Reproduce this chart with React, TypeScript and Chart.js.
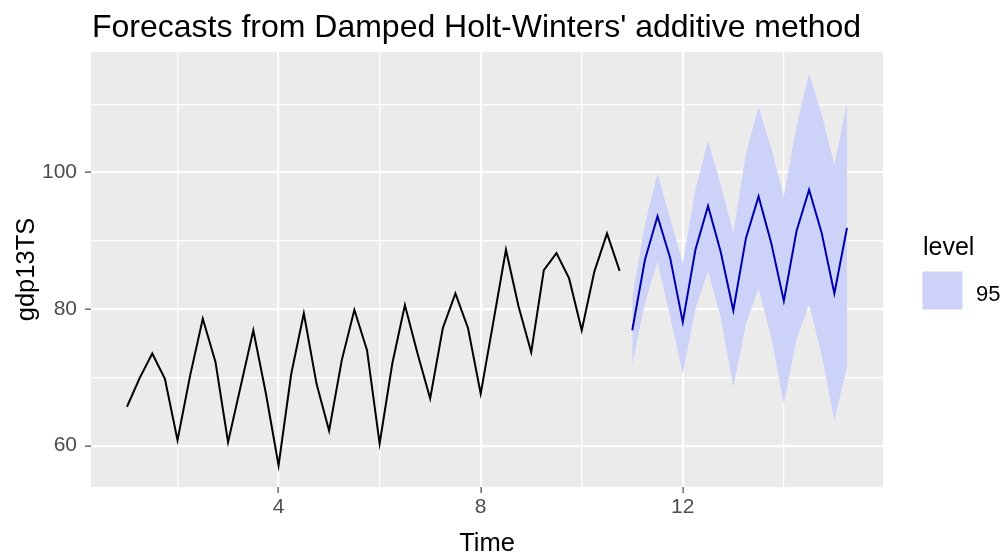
import React, { useEffect, useRef } from "react";
import { Chart, registerables } from "chart.js";

Chart.register(...registerables);

// ---- data ----
const historyStart = 1;
const quarterStep = 0.25;
const historyValues = [
  65.7, 69.9, 73.5, 69.8,
  60.8, 70.3, 78.6, 72.3,
  60.5, 68.7, 76.9, 67.6,
  57.1, 70.5, 79.4, 69.1,
  62.2, 72.5, 79.9, 74.0,
  60.3, 72.0, 80.6, 73.5,
  66.9, 77.2, 82.3, 77.2,
  67.6, 78.1, 88.7, 80.4,
  73.7, 85.7, 88.2, 84.5,
  76.9, 85.5, 91.1, 85.6,
];
const forecastStart = 11;
const forecastMean = [
  76.9, 87.2, 93.6, 87.5,
  78.1, 88.7, 95.1, 88.4,
  79.8, 90.4, 96.5, 89.7,
  81.2, 91.4, 97.5, 91.1,
  82.3, 91.9,
];
const forecastUpper95 = [
  81.8, 92.4, 99.9, 93.3,
  86.7, 97.5, 104.7, 98.2,
  91.2, 102.8, 109.6, 103.6,
  96.5, 106.8, 114.5, 108.5,
  101.1, 110.2,
];
const forecastLower95 = [
  71.8, 80.9, 87.0, 78.9,
  70.5, 80.0, 85.6, 78.8,
  68.6, 77.8, 83.1, 75.8,
  66.1, 75.5, 80.7, 73.2,
  63.7, 71.6,
];
const xMajorTicks = [4, 8, 12];
const xMinorTicks = [2, 6, 10, 14];
const yMajorTicks = [60, 80, 100];
const yMinorTicks = [70, 90, 110];
const xRange = [0.2875, 15.9625];
const yRange = [53.95, 117.66];
const titleText = "Forecasts from Damped Holt-Winters' additive method";
const xAxisTitle = "Time";
const yAxisTitle = "gdp13TS";
const legendTitle = "level";
const legendLabel = "95";

// ---- styles ----
const FONT = '"Liberation Sans", Arial, sans-serif';
const BAND = "#CDD2F9";
const MEAN = "#0000AA";
const PANEL = "#EBEBEB";

const toPoints = (start: number, vals: number[]) =>
  vals.map((v, i) => ({ x: start + i * quarterStep, y: v }));

const decorPlugin = {
  id: "decor",
  beforeDraw(chart: any) {
    const { ctx, chartArea: a } = chart;
    ctx.save();
    ctx.fillStyle = "#FFFFFF";
    ctx.fillRect(0, 0, chart.width, chart.height);
    ctx.fillStyle = PANEL;
    ctx.fillRect(a.left, a.top, a.right - a.left, a.bottom - a.top);
    ctx.restore();
  },
  afterDraw(chart: any) {
    const { ctx, chartArea: a } = chart;
    ctx.save();
    ctx.fillStyle = "#000000";
    ctx.textBaseline = "alphabetic";
    // title
    ctx.font = `32px ${FONT}`;
    ctx.textAlign = "left";
    ctx.fillText(titleText, 92, 36.5);
    // x axis title
    ctx.font = `25.5px ${FONT}`;
    ctx.textAlign = "center";
    ctx.fillText(xAxisTitle, (a.left + a.right) / 2, 551);
    // y axis title
    ctx.save();
    ctx.translate(33.5, (a.top + a.bottom) / 2);
    ctx.rotate(-Math.PI / 2);
    ctx.textAlign = "center";
    ctx.fillText(yAxisTitle, 0, 0);
    ctx.restore();
    // legend
    ctx.textAlign = "left";
    ctx.font = `25px ${FONT}`;
    ctx.fillText(legendTitle, 923, 255);
    ctx.fillStyle = BAND;
    ctx.fillRect(922.5, 271.5, 40, 38);
    ctx.fillStyle = "#000000";
    ctx.font = `22px ${FONT}`;
    ctx.fillText(legendLabel, 976, 301);
    ctx.restore();
  },
};

export default function App() {
  const ref = useRef<HTMLCanvasElement | null>(null);

  useEffect(() => {
    if (!ref.current) return;
    const xAll = [...xMinorTicks, ...xMajorTicks].sort((p, q) => p - q);
    const yAll = [...yMinorTicks, ...yMajorTicks].sort((p, q) => p - q);
    const chart = new Chart(ref.current, {
      type: "line",
      data: {
        datasets: [
          {
            label: "mean",
            data: toPoints(forecastStart, forecastMean),
            borderColor: MEAN,
            borderWidth: 2,
            pointRadius: 0,
            tension: 0,
            fill: false,
            order: 0,
          },
          {
            label: "history",
            data: toPoints(historyStart, historyValues),
            borderColor: "#000000",
            borderWidth: 2,
            pointRadius: 0,
            tension: 0,
            fill: false,
            order: 1,
          },
          {
            label: "lower95",
            data: toPoints(forecastStart, forecastLower95),
            borderColor: "rgba(0,0,0,0)",
            borderWidth: 0,
            pointRadius: 0,
            tension: 0,
            fill: false,
            order: 3,
          },
          {
            label: "upper95",
            data: toPoints(forecastStart, forecastUpper95),
            borderColor: "rgba(0,0,0,0)",
            backgroundColor: BAND,
            borderWidth: 0,
            pointRadius: 0,
            tension: 0,
            fill: "-1",
            order: 2,
          },
        ],
      },
      options: {
        animation: false,
        responsive: false,
        devicePixelRatio: 1,
        layout: { padding: { top: 52, right: 121, left: 0, bottom: 0 } },
        plugins: {
          legend: { display: false },
          tooltip: { enabled: false },
          title: { display: false },
        },
        scales: {
          x: {
            type: "linear",
            min: xRange[0],
            max: xRange[1],
            afterBuildTicks: (s: any) => {
              s.ticks = xAll.map((v) => ({ value: v }));
            },
            afterFit: (s: any) => {
              s.height = 67;
            },
            border: { display: false },
            grid: {
              color: "#FFFFFF",
              lineWidth: (c: any) => (xMajorTicks.includes(c.tick?.value) ? 2.2 : 1.3),
              drawTicks: true,
              tickLength: 6,
              tickWidth: 1.1,
              tickColor: (c: any) =>
                xMajorTicks.includes(c.tick?.value) ? "#333333" : "rgba(0,0,0,0)",
            },
            ticks: {
              autoSkip: false,
              maxRotation: 0,
              padding: 2,
              color: "#4D4D4D",
              font: { family: FONT, size: 21 },
              callback: (v: any) => (xMajorTicks.includes(Number(v)) ? String(v) : ""),
            },
          },
          y: {
            type: "linear",
            min: yRange[0],
            max: yRange[1],
            afterBuildTicks: (s: any) => {
              s.ticks = yAll.map((v) => ({ value: v }));
            },
            afterFit: (s: any) => {
              s.width = 91;
            },
            border: { display: false },
            grid: {
              color: "#FFFFFF",
              lineWidth: (c: any) => (yMajorTicks.includes(c.tick?.value) ? 2.2 : 1.3),
              drawTicks: true,
              tickLength: 6,
              tickWidth: 1.1,
              tickColor: (c: any) =>
                yMajorTicks.includes(c.tick?.value) ? "#333333" : "rgba(0,0,0,0)",
            },
            ticks: {
              autoSkip: false,
              padding: 8,
              color: "#4D4D4D",
              font: { family: FONT, size: 21 },
              callback: (v: any) => (yMajorTicks.includes(Number(v)) ? String(v) : ""),
            },
          },
        },
      },
      plugins: [decorPlugin],
    });
    return () => chart.destroy();
  }, []);

  return (
    <div style={{ position: "absolute", left: 0, top: 0, width: 1004, height: 554 }}>
      <canvas ref={ref} width={1004} height={554} style={{ display: "block" }} />
    </div>
  );
}
